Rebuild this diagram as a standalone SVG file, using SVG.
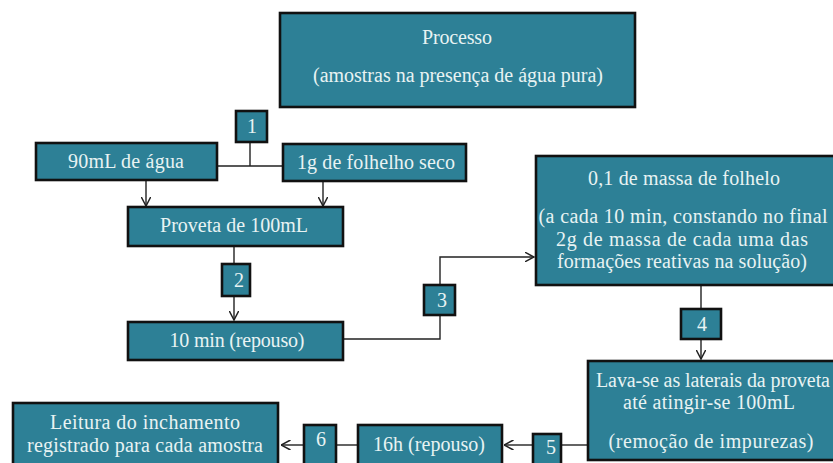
<svg xmlns="http://www.w3.org/2000/svg" width="833" height="463" viewBox="0 0 833 463">
<style>
.box{fill:#2d8096;stroke:#111;stroke-width:2.6}
.t{font-family:"Liberation Serif","Times New Roman",serif;font-size:20px;fill:#e8f3f3;text-anchor:middle}
.c{fill:none;stroke:#222;stroke-width:1.4}
</style>
<defs>
<marker id="arr" viewBox="0 0 10 10" refX="9.5" refY="5" markerWidth="10" markerHeight="10" markerUnits="userSpaceOnUse" orient="auto">
<path d="M0,0 L9.5,5 L0,10" fill="none" stroke="#222" stroke-width="1.5"/>
</marker>
</defs>
<rect width="833" height="463" fill="#fff"/>
<g id="connectors">
<path class="c" d="M218,166 H282 M250,143 V166"/>
<path class="c" d="M146,181 V206" marker-end="url(#arr)"/>
<path class="c" d="M323,182 V206" marker-end="url(#arr)"/>
<path class="c" d="M234,247 V263"/>
<path class="c" d="M234,297 V320" marker-end="url(#arr)"/>
<path class="c" d="M344,339 H440 V316"/>
<path class="c" d="M440,284 V257 H534" marker-end="url(#arr)"/>
<path class="c" d="M701,286 V308"/>
<path class="c" d="M701,339 V359" marker-end="url(#arr)"/>
<path class="c" d="M587,445 H562"/>
<path class="c" d="M532,445 H504" marker-end="url(#arr)"/>
<path class="c" d="M357,445 H337"/>
<path class="c" d="M303,445 H281" marker-end="url(#arr)"/>
</g>
<g id="n-processo">
<rect class="box" x="280" y="13" width="355" height="94"/>
<text class="t" x="457" y="44" textLength="70">Processo</text>
<text class="t" x="458" y="82" textLength="290">(amostras na presença de água pura)</text>
</g>
<g id="n-1">
<rect class="box" x="236" y="111" width="31" height="31"/>
<text class="t" x="252" y="133">1</text>
</g>
<g id="n-agua">
<rect class="box" x="36" y="143" width="181" height="37"/>
<text class="t" x="126" y="168" textLength="116">90mL de água</text>
</g>
<g id="n-folhelho">
<rect class="box" x="283" y="144" width="183" height="37"/>
<text class="t" x="376" y="169" textLength="158">1g de folhelho seco</text>
</g>
<g id="n-proveta">
<rect class="box" x="128" y="207" width="215" height="39"/>
<text class="t" x="234" y="232" textLength="148">Proveta de 100mL</text>
</g>
<g id="n-2">
<rect class="box" x="222" y="264" width="28" height="32"/>
<text class="t" x="239" y="287">2</text>
</g>
<g id="n-10min">
<rect class="box" x="128" y="322" width="215" height="38"/>
<text class="t" x="237" y="347" textLength="135">10 min (repouso)</text>
</g>
<g id="n-3">
<rect class="box" x="424" y="285" width="31" height="30"/>
<text class="t" x="442" y="307">3</text>
</g>
<g id="n-massa">
<rect class="box" x="536" y="156" width="310" height="129"/>
<text class="t" x="684" y="185" textLength="192">0,1 de massa de folhelo</text>
<text class="t" x="683" y="223" textLength="289">(a cada 10 min, constando no final</text>
<text class="t" x="682" y="246" textLength="252">2g de massa de cada uma das</text>
<text class="t" x="682" y="268" textLength="250">formações reativas na solução)</text>
</g>
<g id="n-4">
<rect class="box" x="681" y="309" width="40" height="30"/>
<text class="t" x="702" y="331">4</text>
</g>
<g id="n-lava">
<rect class="box" x="588" y="361" width="260" height="99"/>
<text class="t" x="713" y="387" textLength="234">Lava-se as laterais da proveta</text>
<text class="t" x="709" y="409" textLength="172">até atingir-se 100mL</text>
<text class="t" x="711" y="448" textLength="205">(remoção de impurezas)</text>
</g>
<g id="n-5">
<rect class="box" x="533" y="434" width="28" height="40"/>
<text class="t" x="551" y="454">5</text>
</g>
<g id="n-16h">
<rect class="box" x="358" y="425" width="144" height="50"/>
<text class="t" x="429" y="451" textLength="112">16h (repouso)</text>
</g>
<g id="n-6">
<rect class="box" x="304" y="425" width="32" height="50"/>
<text class="t" x="321" y="446">6</text>
</g>
<g id="n-leitura">
<rect class="box" x="13" y="403" width="265" height="70"/>
<text class="t" x="145" y="429" textLength="190">Leitura do inchamento</text>
<text class="t" x="145" y="452" textLength="236">registrado para cada amostra</text>
</g>
</svg>
